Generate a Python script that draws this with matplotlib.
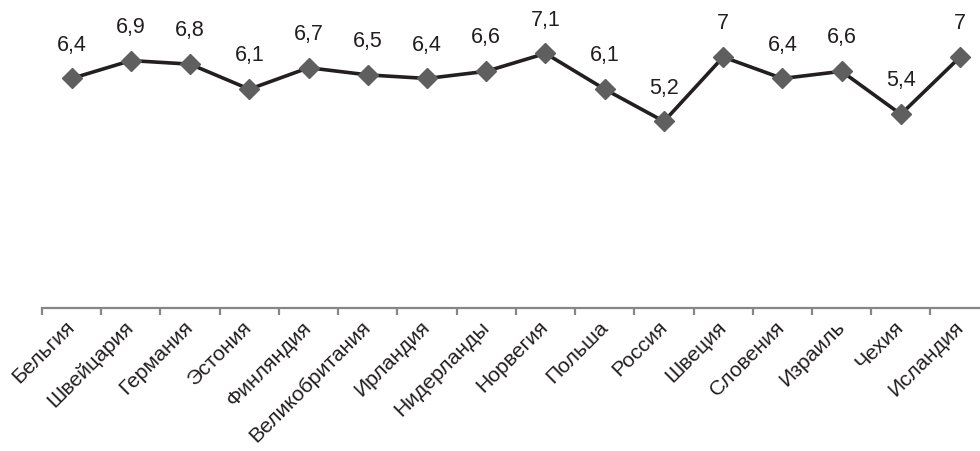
import matplotlib.pyplot as plt
import numpy as np

plt.rcParams['font.family'] = ['Liberation Sans', 'DejaVu Sans']

# Data
countries = ['Бельгия', 'Швейцария', 'Германия', 'Эстония', 'Финляндия',
             'Великобритания', 'Ирландия', 'Нидерланды', 'Норвегия', 'Польша',
             'Россия', 'Швеция', 'Словения', 'Израиль', 'Чехия', 'Исландия']
values = [6.4, 6.9, 6.8, 6.1, 6.7, 6.5, 6.4, 6.6, 7.1, 6.1, 5.2, 7.0, 6.4, 6.6, 5.4, 7.0]
value_labels = ['6,4', '6,9', '6,8', '6,1', '6,7', '6,5', '6,4', '6,6', '7,1', '6,1',
                '5,2', '7', '6,4', '6,6', '5,4', '7']

fig = plt.figure(figsize=(9.8, 4.51), dpi=100)
ax = fig.add_axes([0.0429, 0.318, 0.967, 0.635])

x = np.arange(len(countries))
ax.plot(x, values, color='#231f20', linewidth=2.6, marker='D', markersize=10.5,
        markerfacecolor='#5f5f5f', markeredgecolor='#5f5f5f', zorder=3)

# value labels above each point
for xi, v, lab in zip(x, values, value_labels):
    ax.annotate(lab, (xi, v), xytext=(0, 24), textcoords='offset points',
                ha='center', va='center', fontsize=15.5, color='#231f20')

ax.set_xlim(-0.5, len(countries) - 0.5)
ax.set_ylim(0, 8)

for s in ['top', 'right', 'left']:
    ax.spines[s].set_visible(False)
ax.spines['bottom'].set_color('#868686')
ax.spines['bottom'].set_linewidth(1.6)
ax.set_yticks([])

ax.set_xticks(x)
ax.set_xticklabels(countries, rotation=45, ha='right', va='center',
                   rotation_mode='anchor', fontsize=15.2, color='#231f20')
ax.tick_params(axis='x', which='major', length=0, pad=12)
ax.set_xticks(np.arange(-0.5, len(countries), 1), minor=True)
ax.tick_params(axis='x', which='minor', length=5, width=1.6, color='#868686')

fig.savefig('out.png', dpi=100)
